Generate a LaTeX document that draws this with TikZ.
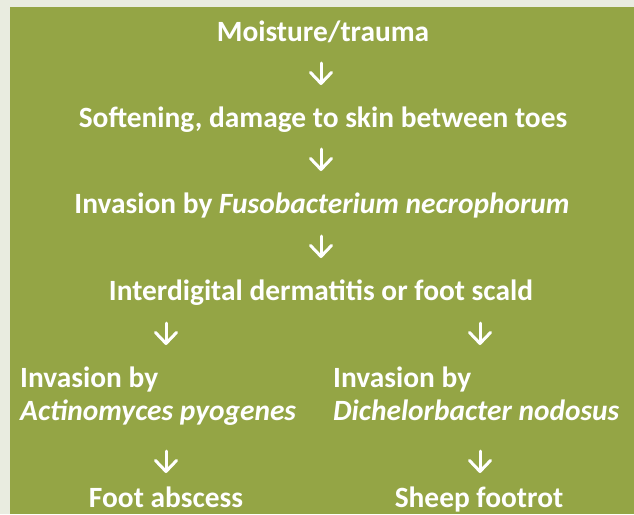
\documentclass[tikz,border=0pt]{standalone}
\usepackage{fontspec}
\setmainfont{Carlito}
\usetikzlibrary{arrows.meta}
\definecolor{pagebg}{HTML}{E9ECE0}
\definecolor{leaf}{HTML}{94A545}
\tikzset{
  lbl/.style={text=white, font=\fontsize{29.4}{34}\selectfont\bfseries, inner sep=0pt, anchor=base},
  lbll/.style={lbl, anchor=base west},
  arr/.style={draw=white, line width=3pt, line cap=round,
    -{Straight Barb[length=11pt,width=21pt,line cap=round,line join=round]}}
}
\begin{document}
\begin{tikzpicture}[x=1pt,y=-1pt]
\useasboundingbox (0,0) rectangle (634,514);
\fill[pagebg] (0,0) rectangle (634,514);
\fill[leaf] (10,7) rectangle (634,514);
\node[lbl] (n1) at (323,41.7) {Moisture/trauma};
\node[lbl] (n2) at (323,127) {Softening, damage to skin between toes};
\node[lbl] (n3) at (322,213) {Invasion by \textit{Fusobacterium necrophorum}};
\node[lbl] (n4) at (321,300) {Interdigital dermatitis or foot scald};
\node[lbll] (l1) at (20,387) {Invasion by};
\node[lbll] (l2) at (20,420) {\textit{Actinomyces pyogenes}};
\node[lbll] (r1) at (333,387) {Invasion by};
\node[lbll] (r2) at (333,420) {\textit{Dichelorbacter nodosus}};
\node[lbl] (l3) at (166,507) {Foot abscess};
\node[lbl] (r3) at (479,507) {Sheep footrot};
\coordinate (a1t) at (321,63); \coordinate (a1b) at (321,85);
\coordinate (a2t) at (321,149); \coordinate (a2b) at (321,171);
\coordinate (a3t) at (321,236); \coordinate (a3b) at (321,258);
\coordinate (a4t) at (166,323); \coordinate (a4b) at (166,345);
\coordinate (a5t) at (480,323); \coordinate (a5b) at (480,345);
\coordinate (a6t) at (166,451); \coordinate (a6b) at (166,473);
\coordinate (a7t) at (480,451); \coordinate (a7b) at (480,473);
\foreach \i in {1,...,7} {\draw[arr] (a\i t) -- (a\i b);}
\end{tikzpicture}
\end{document}
